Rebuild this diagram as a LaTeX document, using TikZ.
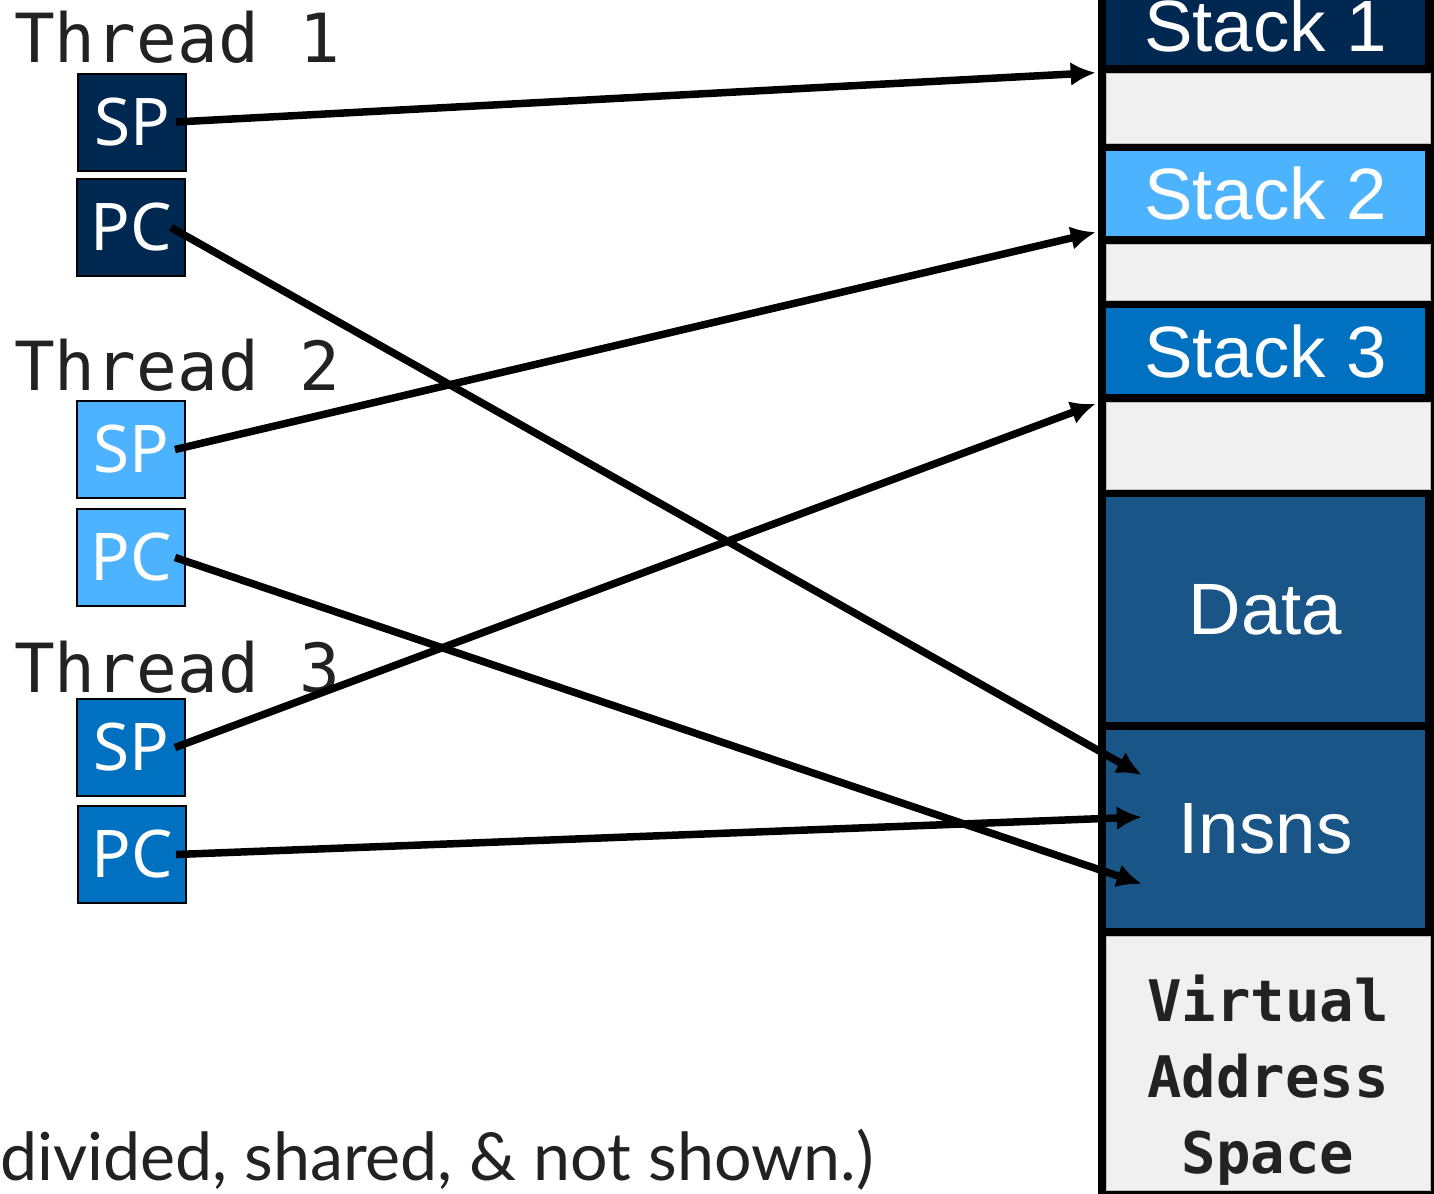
\documentclass[tikz,border=0pt]{standalone}
\usepackage{fontspec}
\setmainfont{Liberation Sans}
\newfontfamily\monofont{DejaVu Sans Mono}
\newfontfamily\regfont{Noto Sans}
\newfontfamily\notefont{Lato}
\usetikzlibrary{positioning,arrows.meta}

\definecolor{tOne}{HTML}{002850}
\definecolor{tTwo}{HTML}{4EB3FF}
\definecolor{tThree}{HTML}{0070C0}
\definecolor{segblue}{HTML}{195587}
\definecolor{gapgray}{HTML}{F0F0F0}
\definecolor{inkgray}{HTML}{222222}

\tikzset{
  thread/.style={font=\monofont\fontsize{68}{70}\selectfont, text=inkgray, anchor=base west, inner sep=0pt},
  reg/.style={draw=black, line width=2bp, minimum width=108bp, minimum height=97bp, inner sep=0pt, text=white, font=\regfont\fontsize{66}{70}\selectfont},
  seg/.style={minimum width=319bp, inner sep=0pt, text=white, font=\fontsize{73}{80}\selectfont},
  gap/.style={fill=gapgray, draw=gray!50, line width=0.6bp, minimum width=324bp, inner sep=0pt},
  ptr/.style={-{Latex[length=25bp,width=24bp]}, line width=7.5bp},
}

\begin{document}
\begin{tikzpicture}[x=1bp, y=-1bp]
      \useasboundingbox (0,0) rectangle (1434,1193);

      % Address space column
      \fill[black] (1098,-10) rectangle (1434,1203);
      \node[seg, fill=tOne, minimum height=78bp] (stack1) at (1265.5,26) {Stack 1};
      \node[gap, minimum height=70bp] (gap1) at (1268,108) {};
      \node[seg, fill=tTwo, minimum height=85bp] (stack2) at (1265.5,193.5) {Stack 2};
      \node[gap, minimum height=56bp] (gap2) at (1268,272) {};
      \node[seg, fill=tThree, minimum height=86bp] (stack3) at (1265.5,351) {Stack 3};
      \node[gap, minimum height=87bp] (gap3) at (1268,445.5) {};
      \node[seg, fill=segblue, minimum height=225bp] (data) at (1265.5,609.5) {Data};
      \node[seg, fill=segblue, minimum height=198bp] (insns) at (1265.5,829) {Insns};
      \node[gap, minimum height=254bp] (vas) at (1268,1063) {};
      \node[font=\monofont\bfseries\fontsize{57.5}{76}\selectfont, text=inkgray, align=center, inner sep=0pt]
        (vaslabel) at (1268,1080) {Virtual\\Address\\Space};

      % Threads and their registers
      \node[thread] (thread1) at (14,62) {Thread 1};
      \node[reg, fill=tOne] (sp1) at (132,122) {SP};
      \node[reg, fill=tOne] (pc1) at (131,227.5) {PC};

      \node[thread] (thread2) at (14,390) {Thread 2};
      \node[reg, fill=tTwo] (sp2) at (131,449.5) {SP};
      \node[reg, fill=tTwo] (pc2) at (131,557.5) {PC};

      \node[thread] (thread3) at (14,692) {Thread 3};
      \node[reg, fill=tThree] (sp3) at (131,747.5) {SP};
      \node[reg, fill=tThree] (pc3) at (132,854.5) {PC};

      % Note at the bottom
      \node[font=\notefont\fontsize{66.5}{70}\selectfont, text=inkgray, anchor=base west, inner sep=0pt]
        (note) at (0,1180) {divided, shared, \& not shown.)};

      % Pointers
      \draw[ptr] ([xshift=-11bp]sp1.east) -- ([xshift=-10bp]gap1.north west);
      \draw[ptr] ([xshift=-15bp]pc1.east) -- ([xshift=36bp,yshift=54bp]insns.west);
      \draw[ptr] ([xshift=-11bp]sp2.east) -- ([xshift=-10bp,yshift=4bp]stack2.south west);
      \draw[ptr] ([xshift=-11bp]pc2.east) -- ([xshift=36bp,yshift=-55bp]insns.west);
      \draw[ptr] ([xshift=-11bp]sp3.east) -- ([xshift=-10bp,yshift=-2bp]gap3.north west);
      \draw[ptr] ([xshift=-11bp]pc3.east) -- ([xshift=36bp,yshift=12bp]insns.west);
\end{tikzpicture}
\end{document}
